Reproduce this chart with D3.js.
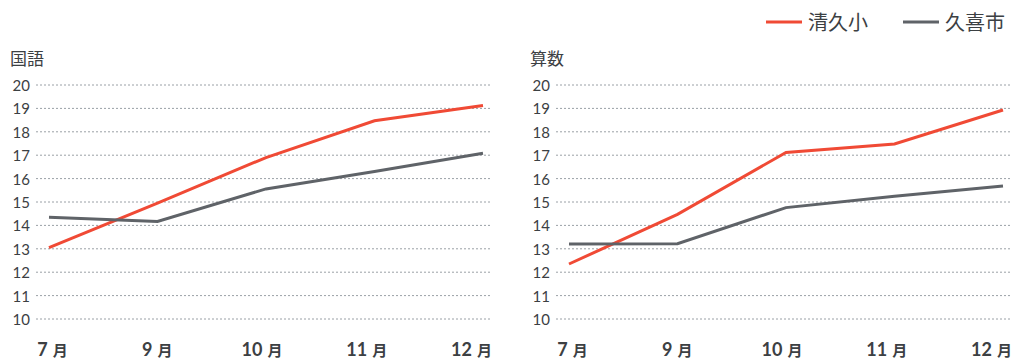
<!DOCTYPE html>
<html>
<head>
<meta charset="utf-8">
<script src="https://cdn.jsdelivr.net/npm/d3@7"></script>
<style>
  body { margin: 0; background: #fff; }
  svg text { font-family: Lato, "Noto Sans CJK JP", sans-serif; fill: #3c4043; }
</style>
</head>
<body>
<div id="chart"></div>
<script>
// data
const months = ["7", "9", "10", "11", "12"];
const yTicks = [10, 11, 12, 13, 14, 15, 16, 17, 18, 19, 20];
const seriesNames = ["清久小", "久喜市"];
const colors = ["#f04a35", "#5f6368"];

const kokugoSchool = [13.05, 14.95, 16.9, 18.47, 19.12];
const kokugoCity = [14.35, 14.17, 15.56, 16.3, 17.08];
const sansuSchool = [12.35, 14.47, 17.12, 17.48, 18.93];
const sansuCity = [13.2, 13.22, 14.76, 15.25, 15.68];

const W = 1017, H = 359;

const svg = d3.select("#chart").append("svg")
  .attr("width", W)
  .attr("height", H);

const y = d3.scaleLinear().domain([10, 20]).range([319, 85]);

//draw one small chart
function drawPanel(title, left, series) {
  const gridL = left, gridR = left + 456;
  const x = d3.scalePoint().domain(months).range([gridL + 13, gridR - 9]);
  //labels sit on their own spacing so the last one stays inside
  const xLabel = d3.scalePoint().domain(months).range([gridL + 16, gridR - 21]);
  const g = svg.append("g");

  g.append("text")
    .attr("x", gridL - 26)
    .attr("y", 65)
    .style("font-size", "17px")
    .text(title);

  //grid lines
  g.selectAll("line.grid")
    .data(yTicks)
    .enter()
    .append("line")
    .attr("class", "grid")
    .attr("x1", gridL)
    .attr("x2", gridR)
    .attr("y1", d => y(d))
    .attr("y2", d => y(d))
    .attr("stroke", "#9aa0a6")
    .attr("stroke-width", 1)
    .attr("stroke-dasharray", "2,2");

  //y axis
  const yAxis = g.append("g")
    .attr("transform", "translate(" + (gridL - 6) + ",0)")
    .call(d3.axisLeft(y).tickValues(yTicks).tickSize(0).tickPadding(0));
  yAxis.select(".domain").remove();
  yAxis.selectAll("text")
    .style("font-size", "15px")
    .attr("fill", null)
    .attr("dy", "0.36em");

  //x axis
  const xAxis = g.append("g")
    .attr("transform", "translate(0,340)")
    .call(d3.axisBottom(xLabel).tickSize(0).tickPadding(0));
  xAxis.select(".domain").remove();
  xAxis.selectAll("text")
    .attr("fill", null)
    .attr("dy", "16px")
    .style("font-weight", "bold")
    .text(null)
    .each(function (d) {
      const t = d3.select(this);
      t.append("tspan").style("font-size", "18px").text(d);
      t.append("tspan").style("font-size", "15px").attr("dx", "5").text("月");
    });

  const line = d3.line()
    .x((d, i) => x(months[i]))
    .y(d => y(d));

  g.selectAll("path.series")
    .data(series)
    .enter()
    .append("path")
    .attr("class", "series")
    .attr("d", d => line(d))
    .attr("fill", "none")
    .attr("stroke", (d, i) => colors[i])
    .attr("stroke-width", 3);
}

drawPanel("国語", 36, [kokugoSchool, kokugoCity]);
drawPanel("算数", 556, [sansuSchool, sansuCity]);

//legend
const legendX = [766, 903];
const legend = svg.append("g");
seriesNames.forEach(function (name, i) {
  legend.append("line")
    .attr("x1", legendX[i])
    .attr("x2", legendX[i] + 36)
    .attr("y1", 22)
    .attr("y2", 22)
    .attr("stroke", colors[i])
    .attr("stroke-width", 3);
  legend.append("text")
    .attr("x", legendX[i] + 42)
    .attr("y", 30)
    .style("font-size", "20px")
    .attr("fill", "#3c4043")
    .text(name);
});
</script>
</body>
</html>
